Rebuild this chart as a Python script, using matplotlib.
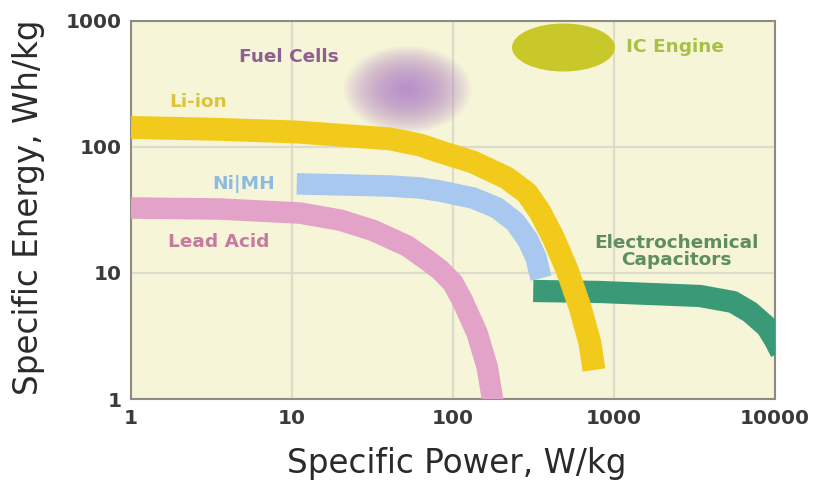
import matplotlib
matplotlib.use("Agg")
import matplotlib.pyplot as plt
from matplotlib.path import Path
from matplotlib.transforms import Affine2D

# --- data (W/kg, Wh/kg) ---
li_ion_p = [1, 3.57, 10.7, 40.6, 62, 83, 133, 216, 288, 347, 418, 511, 615, 709, 751]
li_ion_e = [143, 138, 131.5, 116, 104, 91.8, 76, 56.8, 43.1, 30.5, 19.3, 10.6, 5.37, 2.78, 1.7]

nimh_p = [10.7, 40.6, 62.4, 83, 133, 188, 243, 292, 328, 352]
nimh_e = [51, 49, 47.3, 44.7, 39.4, 32.8, 25.4, 18.3, 13.2, 9.1]

lead_p = [1, 3.57, 11.2, 19.9, 31.8, 51.8, 69, 83, 100, 114, 141, 163, 175, 180]
lead_e = [32.8, 32.2, 29.9, 26.3, 21.8, 16.4, 12.7, 10.6, 8.33, 6.1, 3.34, 1.8, 1.04, 0.79]

cap_p = [315, 818, 3420, 5480, 7000, 8920, 10000, 10900]
cap_e = [7.2, 7.07, 6.57, 5.89, 4.9, 3.73, 2.94, 2.36]

fuel_cell_p, fuel_cell_e = 52, 290
ic_engine_p, ic_engine_e = 482, 622

xticks = [1, 10, 100, 1000, 10000]
yticks = [1, 10, 100, 1000]

W, H = 814, 486
fig = plt.figure(figsize=(W / 100, H / 100), dpi=100)
fig.patch.set_facecolor("white")
ax = fig.add_axes([131 / W, 1 - 399 / H, 644 / W, 378 / H])
ax.set_facecolor("#f7f5d8")
ax.set_xscale("log")
ax.set_yscale("log")
ax.set_xlim(1, 10000)
ax.set_ylim(1, 1000)

ax.grid(True, which="major", color="#dcdccb", lw=1.6)
ax.set_axisbelow(True)
ax.minorticks_off()
ax.set_xticks(xticks)
ax.set_xticklabels([str(t) for t in xticks])
ax.set_yticks(yticks)
ax.set_yticklabels([str(t) for t in yticks])
ax.tick_params(length=0, labelsize=14.5, labelcolor="#3a3a3a")
ax.tick_params(axis="x", pad=7)
ax.tick_params(axis="y", pad=7)
for lab in ax.get_xticklabels() + ax.get_yticklabels():
    lab.set_fontweight("bold")
for s in ax.spines.values():
    s.set_color("#8c8c80")
    s.set_linewidth(1.5)

# fuzzy fuel-cell blob: stacked translucent ellipses
blob = Path.unit_circle().transformed(Affine2D().scale(1, 0.68))
for i in range(30):
    w = 128 - i * 4
    ax.scatter([fuel_cell_p], [fuel_cell_e], s=(w * 0.72) ** 2, marker=blob,
               color="#b383c9", alpha=0.05, linewidths=0, zorder=2)

# IC engine ellipse
ell = Path.unit_circle().transformed(Affine2D().scale(1, 48 / 103))
ax.scatter([ic_engine_p], [ic_engine_e], s=(103 * 0.72) ** 2, marker=ell,
           color="#c9c82a", linewidths=0, zorder=3)

kw = dict(solid_capstyle="butt", solid_joinstyle="round")
ax.plot(lead_p, lead_e, color="#e3a2c8", lw=15.5, zorder=3, **kw)
ax.plot(nimh_p, nimh_e, color="#a8c8ef", lw=15.5, zorder=3, **kw)
ax.plot(cap_p, cap_e, color="#3a9a78", lw=16, zorder=4, **kw)
ax.plot(li_ion_p, li_ion_e, color="#f2ca1c", lw=16.5, zorder=5, **kw)

tkw = dict(fontsize=13.3, fontweight="bold", ha="center", va="center", zorder=6)
ax.text(9.6, 518, "Fuel Cells", color="#8e6090", **tkw)
ax.text(2.6, 228, "Li-ion", color="#dcc43c", **tkw)
ax.text(5.0, 51, "Ni|MH", color="#8cbbe2", **tkw)
ax.text(3.5, 17.6, "Lead Acid", color="#c77aa0", **tkw)
ax.text(2390, 622, "IC Engine", color="#a9bf45", **tkw)
ax.text(2430, 14.9, "Electrochemical\nCapacitors", color="#5e8d62",
        linespacing=0.95, **tkw)

fig.text(457 / W, 1 - 463 / H, "Specific Power, W/kg", fontsize=23.5,
         ha="center", va="center", color="#2a2a2a")
fig.text(29 / W, 1 - 207 / H, "Specific Energy, Wh/kg", fontsize=23.5,
         ha="center", va="center", rotation=90, color="#2a2a2a")

fig.savefig("out.png", dpi=100)
